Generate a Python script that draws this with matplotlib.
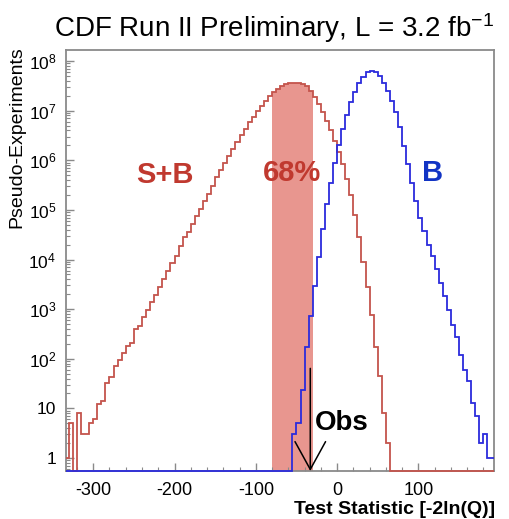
import numpy as np
import matplotlib
matplotlib.use("Agg")
import matplotlib.pyplot as plt
from matplotlib.ticker import FixedLocator, NullFormatter

plt.rcParams['font.family'] = ['Liberation Sans', 'DejaVu Sans']
plt.rcParams['mathtext.fontset'] = 'custom'
plt.rcParams['mathtext.rm'] = 'Liberation Sans'
plt.rcParams['mathtext.it'] = 'Liberation Sans:italic'
plt.rcParams['mathtext.bf'] = 'Liberation Sans:bold'

# Histogram binning of the test statistic -2ln(Q)
bin_width = 5
bin_lo, bin_hi = -335, 195

# Signal+background pseudo-experiments, bins starting at splusb_start
splusb_start = -335
splusb_counts = [
    1, 5, 0, 8, 3, 3, 5, 6, 12, 14,
    33, 42, 72, 93, 130, 180, 210, 390, 450, 690,
    980, 1400, 1900, 2800, 4000, 5800, 8500, 12000, 19000, 28000,
    36000, 52000, 76000, 105000, 150000, 210000, 310000, 450000, 630000, 870000,
    1.2e6, 1.66e6, 2.3e6, 3.2e6, 4.3e6, 5.8e6, 7.6e6, 9.8e6, 1.26e7, 1.58e7,
    1.95e7, 2.34e7, 2.75e7, 3.1e7, 3.4e7, 3.6e7, 3.67e7, 3.63e7, 3.43e7, 3.1e7,
    2.5e7, 1.9e7, 1.35e7, 9.3e6, 6.3e6, 4.0e6, 2.5e6, 1.48e6, 830000, 420000,
    200000, 80000, 28000, 9000, 2800, 750, 170, 45, 8, 2,
]

# Background-only pseudo-experiments, bins starting at b_start
b_start = -55
b_counts = [
    3, 5, 24, 170, 720, 2900, 11000, 41000, 130000, 350000,
    890000, 2.0e6, 4.3e6, 8.3e6, 1.48e7, 2.4e7, 3.55e7, 4.8e7, 5.9e7, 6.3e7,
    5.9e7, 4.9e7, 3.6e7, 2.5e7, 1.58e7, 9.3e6, 4.6e6, 1.95e6, 830000, 350000,
    150000, 69000, 37000, 20000, 12000, 6300, 3400, 1800, 980, 490,
    280, 120, 60, 35, 13, 7, 2, 3, 1, 1,
]

# 68% interval of the S+B distribution and observed value
band_lo, band_hi = -80, -30
obs_value = -33
obs_arrow_top = 64

x_ticks = [-300, -200, -100, 0, 100]
x_tick_labels = ['-300', '-200', '-100', '0', '100']
y_ticks = [1, 10, 1e2, 1e3, 1e4, 1e5, 1e6, 1e7, 1e8]
y_tick_labels = ['1', '10', '$10^2$', '$10^3$', '$10^4$', '$10^5$',
                 '$10^6$', '$10^7$', '$10^8$']

x_min, x_max = -333.5, 193
y_min, y_max = 0.547, 1.67e8

red_line = '#c4544c'
band_color = '#e8968f'
red_text = '#c0392f'
blue_line = '#2b2bdc'
blue_text = '#1234c4'
frame_grey = '#8a8a8a'

edges = np.arange(bin_lo, bin_hi + bin_width, bin_width, dtype=float)
n_bins = len(edges) - 1


def fill_bins(start, values):
    counts = np.zeros(n_bins)
    i0 = int(round((start - bin_lo) / bin_width))
    counts[i0:i0 + len(values)] = values
    return counts


sb = fill_bins(splusb_start, splusb_counts)
bk = fill_bins(b_start, b_counts)

# empty bins are drawn on the lower frame edge
sb_draw = np.where(sb > 0, sb, y_min)
bk_draw = np.where(bk > 0, bk, y_min)
draw_edges = np.clip(edges, x_min, x_max)

fig = plt.figure(figsize=(5.10, 5.19), dpi=100)
ax = fig.add_axes([66 / 510, 48 / 519, 428 / 510, 421 / 519])
ax.set_yscale('log')
ax.set_xlim(x_min, x_max)
ax.set_ylim(y_min, y_max)

# shaded 68% region under the S+B histogram
in_band = (edges[:-1] >= band_lo) & (edges[1:] <= band_hi)
idx = np.where(in_band)[0]
ax.stairs(sb[idx], edges[idx[0]:idx[-1] + 2], baseline=y_min, fill=True,
          color=band_color, zorder=1, linewidth=0)

ax.stairs(sb_draw, draw_edges, baseline=None, color=red_line, linewidth=1.3,
          zorder=3, clip_on=False)
ax.stairs(bk_draw, draw_edges, baseline=None, color=blue_line, linewidth=1.3,
          zorder=4, clip_on=False)

# observed value arrow
ax.annotate('', xy=(obs_value, y_min), xytext=(obs_value, obs_arrow_top),
            arrowprops=dict(arrowstyle='->,head_length=1.0,head_width=0.55',
                            mutation_scale=20, color='black', linewidth=1.1,
                            shrinkA=0, shrinkB=0),
            zorder=5, annotation_clip=False)
ax.text(obs_value + 6, 5.0, 'Obs', fontsize=20, fontweight='bold',
        color='black', ha='left', va='center', zorder=6)

ax.text(-212, 5.1e5, 'S+B', fontsize=21, fontweight='bold', color=red_text,
        ha='center', va='center')
ax.text(-55, 5.6e5, '68%', fontsize=21, fontweight='bold', color=red_text,
        ha='center', va='center')
ax.text(118, 5.6e5, 'B', fontsize=21, fontweight='bold', color=blue_text,
        ha='center', va='center')

# axes styling
for s in ax.spines.values():
    s.set_color(frame_grey)
    s.set_linewidth(1.3)
ax.xaxis.set_major_locator(FixedLocator(x_ticks))
ax.set_xticklabels(x_tick_labels)
ax.xaxis.set_minor_locator(FixedLocator(np.arange(-320, 200, 20)))
ax.yaxis.set_major_locator(FixedLocator(y_ticks))
ax.set_yticklabels(y_tick_labels)
minor_y = [m * 10.0 ** d for d in range(-1, 9) for m in range(2, 10)]
ax.yaxis.set_minor_locator(FixedLocator(minor_y))
ax.yaxis.set_minor_formatter(NullFormatter())
ax.tick_params(which='both', direction='in', color=frame_grey, top=False,
               right=False)
ax.tick_params(axis='x', labelsize=13, pad=8)
ax.tick_params(axis='y', labelsize=12.5, pad=7)
ax.tick_params(which='major', length=6, width=1.0)
ax.tick_params(which='minor', length=3, width=0.8)

fig.text(274 / 510, 1 - 28 / 519, 'CDF Run II Preliminary, L = 3.2 fb$^{-1}$',
         fontsize=20, ha='center', va='center')
fig.text(17 / 510, 1 - 46 / 519, 'Pseudo-Experiments', fontsize=14,
         rotation=90, ha='center', va='top')
fig.text(495 / 510, 1 - 510 / 519, 'Test Statistic [-2ln(Q)]', fontsize=14,
         fontweight='bold', ha='right', va='center')

fig.savefig('out.png', dpi=100)
